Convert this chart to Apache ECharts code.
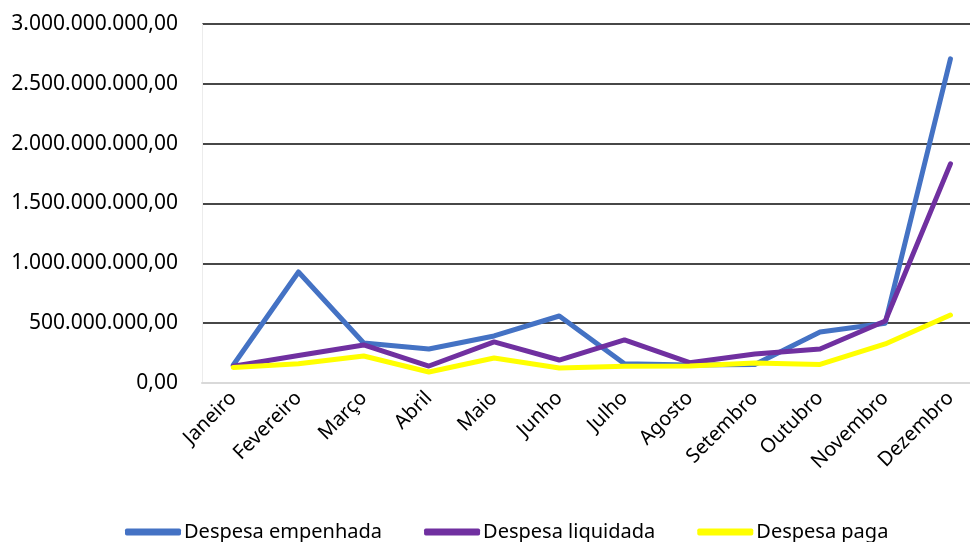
<!DOCTYPE html>
<html>
<head>
<meta charset="utf-8">
<script src="https://cdn.jsdelivr.net/npm/echarts@6/dist/echarts.min.js"></script>
<style>
  html, body { margin: 0; padding: 0; background: #fff; }
  #chart { width: 970px; height: 542px; }
</style>
</head>
<body>
<div id="chart"></div>
<script>
// meses
const meses = ["Janeiro", "Fevereiro", "Março", "Abril", "Maio", "Junho",
  "Julho", "Agosto", "Setembro", "Outubro", "Novembro", "Dezembro"];

// valores (R$)
const empenhada = [150e6, 928e6, 334e6, 284e6, 393e6, 560e6, 160e6, 150e6, 155e6, 426e6, 500e6, 2709e6];
const liquidada = [140e6, 230e6, 318e6, 142e6, 343e6, 192e6, 360e6, 170e6, 242e6, 284e6, 518e6, 1831e6];
const paga = [130e6, 160e6, 226e6, 92e6, 209e6, 125e6, 140e6, 142e6, 167e6, 155e6, 326e6, 568e6];

// formato brasileiro: 3.000.000.000,00
function fmt(v) {
  const s = Math.round(v).toString().replace(/\B(?=(\d{3})+(?!\d))/g, ".");
  return s + ",00";
}

// o eixo x é numérico (índice do mês) para a área poder continuar além da borda
const pares = arr => arr.map((v, i) => [i, v]);
const indices = meses.map((m, i) => i);

const font = "'Noto Sans', sans-serif";

const chart = echarts.init(document.getElementById("chart"));
chart.setOption({
  animation: false,
  grid: {
    left: 202,
    top: 24,
    right: 0,
    height: 359,
    containLabel: false
  },
  legend: {
    top: 517,
    left: 120,
    itemWidth: 56,
    itemHeight: 7,
    itemGap: 42,
    icon: "roundRect",
    textStyle: { fontFamily: font, fontSize: 20, color: "#000", padding: [0, 0, 0, -2] },
    data: ["Despesa empenhada", "Despesa liquidada", "Despesa paga"]
  },
  xAxis: {
    type: "value",
    min: -0.48,
    max: 11.3,
    splitLine: { show: false },
    axisLine: { onZero: false, lineStyle: { color: "#d9d9d9", width: 2 } },
    axisTick: { show: false },
    axisLabel: {
      customValues: indices,
      rotate: 45,
      margin: 12,
      fontFamily: font,
      fontSize: 20,
      color: "#000",
      formatter: v => meses[Math.round(v)]
    }
  },
  yAxis: {
    type: "value",
    min: 0,
    max: 3000000000,
    interval: 500000000,
    axisLine: { show: true, onZero: false, lineStyle: { color: "#ececec", width: 1 } },
    axisTick: { show: false },
    splitLine: { lineStyle: { color: "#474747", width: 2 } },
    axisLabel: {
      margin: 24,
      fontFamily: font,
      fontSize: 21,
      color: "#000",
      formatter: fmt
    }
  },
  series: [
    {
      name: "Despesa empenhada",
      type: "line",
      data: pares(empenhada),
      symbol: "none",
      color: "#4472C4",
      lineStyle: { width: 5, cap: "round", join: "round" }
    },
    {
      name: "Despesa liquidada",
      type: "line",
      data: pares(liquidada),
      symbol: "none",
      color: "#7030A0",
      lineStyle: { width: 5, cap: "round", join: "round" }
    },
    {
      name: "Despesa paga",
      type: "line",
      data: pares(paga),
      symbol: "none",
      color: "#FFFF00",
      lineStyle: { width: 5, cap: "round", join: "round" }
    }
  ]
});
</script>
</body>
</html>
